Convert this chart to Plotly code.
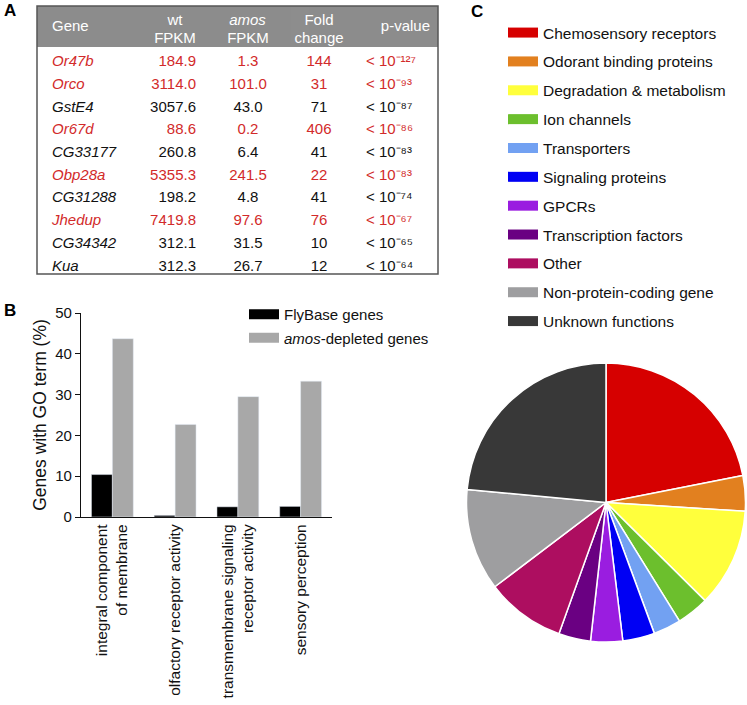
import plotly.graph_objects as go

W, H = 747, 705
FONT = "Liberation Sans, Arial, sans-serif"

# ---------------- Panel A: table ----------------
genes = ["Or47b", "Orco", "GstE4", "Or67d", "CG33177", "Obp28a", "CG31288", "Jhedup", "CG34342", "Kua"]
wt_fpkm = [184.9, 3114.0, 3057.6, 88.6, 260.8, 5355.3, 198.2, 7419.8, 312.1, 312.3]
amos_fpkm = [1.3, 101.0, 43.0, 0.2, 6.4, 241.5, 4.8, 97.6, 31.5, 26.7]
fold_change = [144, 31, 71, 406, 41, 22, 41, 76, 10, 12]
p_exponents = [-127, -93, -87, -86, -83, -83, -74, -67, -65, -64]
highlighted = [True, True, False, True, False, True, False, True, False, False]
header_top_line = ["", "", "wt", "", "Fold", "", ""]
header_bottom_line = ["", "", "FPKM", "FPKM", "change", "", ""]
header_single = ["", "Gene", "", "", "", "", "p-value"]

# ---------------- Panel B: bars ----------------
go_terms = ["integral component<br>of membrane", "olfactory receptor activity",
            "transmembrane signaling<br>receptor activity", "sensory perception"]
flybase_pct = [10.4, 0.4, 2.5, 2.6]
amos_pct = [43.7, 22.7, 29.5, 33.3]

# ---------------- Panel C: pie ----------------
categories = ["Chemosensory receptors", "Odorant binding proteins", "Degradation & metabolism",
              "Ion channels", "Transporters", "Signaling proteins", "GPCRs",
              "Transcription factors", "Other", "Non-protein-coding gene", "Unknown functions"]
shares = [21.9, 4.1, 11.4, 3.75, 3.2, 3.7, 3.7, 3.7, 9.2, 11.8, 23.5]
pie_colors = ["#d60000", "#e2801f", "#ffff3c", "#6cbf2d", "#72a1f2", "#0000f4",
              "#9a1de0", "#6a0082", "#ad0e60", "#9e9ea0", "#383838"]

RED = "#d22a2a"
BLACK = "#111111"
HEAD = "#8c8c8c"
CLEAR = "rgba(0,0,0,0)"
SUP = str.maketrans("-0123456789", "\u207b\u2070\u00b9\u00b2\u00b3\u2074\u2075\u2076\u2077\u2078\u2079")


def px_x(p):
    return p / W


def px_y(p):
    return 1 - p / H


fig = go.Figure()

# ---- table ----
row_colors = [RED if h else BLACK for h in highlighted]
wt_cells = [f"{v:.1f}" for v in wt_fpkm]
amos_cells = [f"{v:.1f}" for v in amos_fpkm]
fold_cells = [str(v) for v in fold_change]
p_cells = ["10" + str(e).translate(SUP) for e in p_exponents]
blank = [""] * len(genes)

TABLE_L, TABLE_R, TABLE_T, TABLE_B = 37, 438, 6, 274
col_w = [7, 102, 58, 88, 54, 12, 80]
HEAD_H = 41
LINE_H = 18

# main table: gray header band + body
fig.add_trace(go.Table(
    domain=dict(x=[px_x(TABLE_L), px_x(TABLE_R)], y=[px_y(TABLE_B + 1), px_y(TABLE_T)]),
    columnwidth=col_w,
    header=dict(values=[""] * 7, fill_color=HEAD, line=dict(color=HEAD, width=0), height=HEAD_H),
    cells=dict(
        values=[blank, genes, wt_cells, amos_cells, fold_cells, blank, p_cells],
        prefix=["", "", "", "", "", "", "<\u00a0"],
        align=["left", "left", "right", "center", "center", "left", "left"],
        fill_color="white",
        line=dict(color="white", width=0),
        font=dict(family=FONT, size=15, color=[row_colors] * 7,
                  style=["normal", "italic", "normal", "normal", "normal", "normal", "normal"]),
        height=22.7,
    ),
))
# two-line column titles (a third, empty title row keeps the second line unclipped)
fig.add_trace(go.Table(
    domain=dict(x=[px_x(TABLE_L), px_x(TABLE_R)], y=[px_y(TABLE_T + 3 * LINE_H + 2), px_y(TABLE_T)]),
    columnwidth=col_w,
    header=dict(values=[[a, b, ""] for a, b in zip(header_top_line, header_bottom_line)],
                align="center", fill_color=CLEAR, line=dict(color=CLEAR, width=0),
                font=dict(family=FONT, size=15, color="white"), height=LINE_H),
    cells=dict(values=[[]] * 7, height=1, line=dict(width=0), fill_color=CLEAR),
))
# single-line column titles (vertically centred in the header band)
fig.add_trace(go.Table(
    domain=dict(x=[px_x(TABLE_L), px_x(TABLE_R)], y=[px_y(TABLE_T + 6 + 2 * LINE_H + 2), px_y(TABLE_T + 6)]),
    columnwidth=col_w,
    header=dict(values=[[v, ""] for v in header_single],
                align=["left", "left", "center", "center", "center", "left", "right"],
                fill_color=CLEAR, line=dict(color=CLEAR, width=0),
                font=dict(family=FONT, size=15, color="white"), height=LINE_H),
    cells=dict(values=[[]] * 7, height=1, line=dict(width=0), fill_color=CLEAR),
))
# italic "amos" title
amos_l = TABLE_L + sum(col_w[:3])
amos_r = amos_l + col_w[3]
fig.add_trace(go.Table(
    domain=dict(x=[px_x(amos_l), px_x(amos_r)], y=[px_y(TABLE_T + 2 * LINE_H + 2), px_y(TABLE_T)]),
    header=dict(values=[["amos", ""]], align="center", fill_color=CLEAR, line=dict(color=CLEAR, width=0),
                font=dict(family=FONT, size=15, color="white", style="italic"), height=LINE_H),
    cells=dict(values=[[]], height=1, line=dict(width=0), fill_color=CLEAR),
))

# ---- bars ----
fig.add_trace(go.Bar(x=go_terms, y=flybase_pct, marker_color="#000000", name="FlyBase genes",
                     showlegend=False, xaxis="x", yaxis="y"))
fig.add_trace(go.Bar(x=go_terms, y=amos_pct, marker_color="#a8a8a8", name="amos-depleted genes",
                     showlegend=False, xaxis="x", yaxis="y"))
# legend entries for panel B (wide swatches)
fig.add_trace(go.Scatter(x=[None], y=[None], mode="lines", line=dict(color="#000000", width=11),
                         name="FlyBase genes", legend="legend", legendgroup="b1", xaxis="x", yaxis="y"))
fig.add_trace(go.Scatter(x=[None], y=[None], mode="lines", line=dict(color="#a8a8a8", width=11),
                         name="<i>amos</i>-depleted genes", legend="legend", legendgroup="b2",
                         xaxis="x", yaxis="y"))

# ---- pie ----
fig.add_trace(go.Pie(
    labels=categories, values=shares, sort=False, direction="clockwise", rotation=0,
    marker=dict(colors=pie_colors, line=dict(color="white", width=1.5)),
    textinfo="none", hoverinfo="label+percent", showlegend=False,
    domain=dict(x=[px_x(466.5), px_x(745.5)], y=[px_y(642), px_y(363)]),
))
# legend entries for panel C
for i, (cat, col) in enumerate(zip(categories, pie_colors)):
    fig.add_trace(go.Scatter(x=[None], y=[None], mode="lines", line=dict(color=col, width=10),
                             name=cat, legend="legend2", legendgroup=f"c{i}",
                             xaxis="x", yaxis="y"))

fig.update_layout(
    width=W, height=H,
    margin=dict(l=0, r=0, t=0, b=0),
    paper_bgcolor="white", plot_bgcolor="white",
    font=dict(family=FONT, size=15, color="#111111"),
    barmode="group", bargap=0.333, bargroupgap=0,
    xaxis=dict(domain=[px_x(81), px_x(332)], anchor="y", showline=True, linecolor="#111111",
               linewidth=1.3, ticks="", tickangle=-90, tickfont=dict(size=15.5),
               showgrid=False, automargin=False),
    yaxis=dict(domain=[px_y(517), px_y(313)], anchor="x", range=[0, 50], dtick=10,
               showline=True, linecolor="#111111", linewidth=1.3, ticks="outside", ticklen=5,
               tickwidth=1.3, tickcolor="#111111", showgrid=False, zeroline=False,
               tickfont=dict(size=15), automargin=False,
               title=dict(text="Genes with GO term (%)", font=dict(size=17.5), standoff=4)),
    legend=dict(x=px_x(244), y=px_y(298), xanchor="left", yanchor="top",
                font=dict(size=15), bgcolor="rgba(0,0,0,0)", tracegroupgap=1,
                itemclick=False, itemdoubleclick=False),
    legend2=dict(x=px_x(503), y=px_y(16), xanchor="left", yanchor="top",
                 font=dict(size=15.5), bgcolor="rgba(0,0,0,0)", tracegroupgap=5.7,
                 itemclick=False, itemdoubleclick=False),
    shapes=[dict(type="rect", xref="paper", yref="paper",
                 x0=px_x(TABLE_L), x1=px_x(TABLE_R), y0=px_y(TABLE_B), y1=px_y(TABLE_T),
                 line=dict(color="#555555", width=1.5))],
    annotations=[
        dict(text="<b>A</b>", x=px_x(2), y=px_y(10.5), xref="paper", yref="paper",
             xanchor="left", yanchor="middle", showarrow=False, font=dict(size=17, color="black")),
        dict(text="<b>B</b>", x=px_x(2), y=px_y(310.5), xref="paper", yref="paper",
             xanchor="left", yanchor="middle", showarrow=False, font=dict(size=17, color="black")),
        dict(text="<b>C</b>", x=px_x(469), y=px_y(11), xref="paper", yref="paper",
             xanchor="left", yanchor="middle", showarrow=False, font=dict(size=17, color="black")),
    ],
)

fig.write_html("out.html", config={"displayModeBar": False},
               post_script="document.body.style.margin='0px';")
